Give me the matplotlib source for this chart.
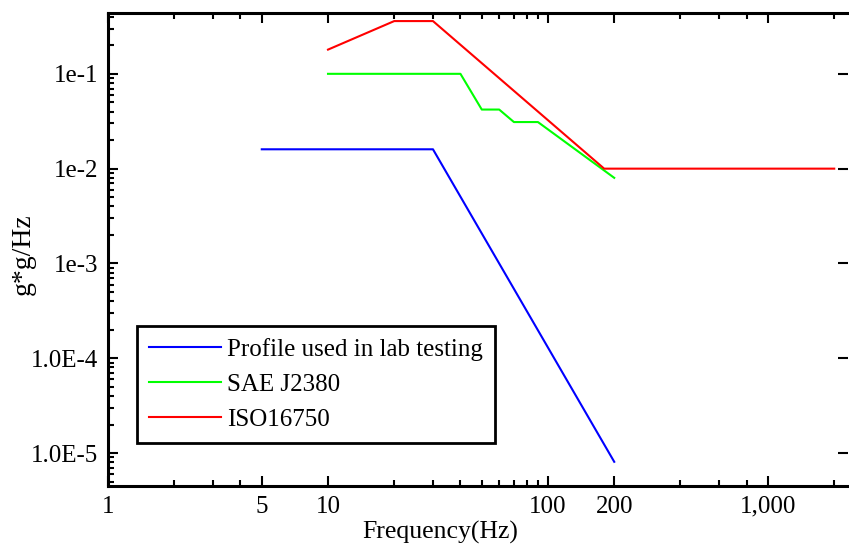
import matplotlib
matplotlib.use("Agg")
import matplotlib.pyplot as plt
from matplotlib.ticker import FixedLocator, FixedFormatter, NullFormatter, LogLocator

# ---- data ----
lab_freq = [5, 30, 200]
lab_psd = [0.016, 0.016, 8.1e-6]

sae_freq = [10, 40, 50, 60, 70, 90, 200]
sae_psd = [0.1, 0.1, 0.042, 0.042, 0.031, 0.031, 0.008]

iso_freq = [10, 20, 30, 180, 2000]
iso_psd = [0.18, 0.36, 0.36, 0.01, 0.01]

series_labels = ["Profile used in lab testing", "SAE J2380", "ISO16750"]
series_colors = ["#0000ff", "#00ff00", "#ff0000"]

x_major = [1, 5, 10, 100, 200, 1000]
x_major_labels = ["1", "5", "10", "100", "200", "1,000"]
x_minor = [2, 3, 4, 20, 30, 40, 50, 60, 70, 80, 90, 400, 600, 800, 2000]

y_major = [1e-1, 1e-2, 1e-3, 1e-4, 1e-5]
y_major_labels = ["1e-1", "1e-2", "1e-3", "1.0E-4", "1.0E-5"]

x_label = "Frequency(Hz)"
y_label = "g*g/Hz"

# ---- plot ----
plt.rcParams['font.family'] = ['Liberation Serif', 'DejaVu Serif']
fig = plt.figure(figsize=(8.49, 5.44), dpi=100)
ax = fig.add_axes([108/849, 1 - 486/544, (848 - 108)/849, (486 - 13)/544])

for fx, fy, lab, col in zip([lab_freq, sae_freq, iso_freq],
                            [lab_psd, sae_psd, iso_psd],
                            series_labels, series_colors):
    ax.plot(fx, fy, color=col, lw=1.5, label=lab)

ax.set_xscale('log')
ax.set_yscale('log')
ax.set_xlim(1, 2310)
ax.set_ylim(4.5e-6, 0.438)

ax.xaxis.set_major_locator(FixedLocator(x_major))
ax.xaxis.set_major_formatter(FixedFormatter(x_major_labels))
ax.xaxis.set_minor_locator(FixedLocator(x_minor))
ax.xaxis.set_minor_formatter(NullFormatter())

ax.yaxis.set_major_locator(FixedLocator(y_major))
ax.yaxis.set_major_formatter(FixedFormatter(y_major_labels))
ax.yaxis.set_minor_locator(LogLocator(base=10, subs=[2, 3, 4, 5, 6, 7, 8, 9], numticks=20))
ax.yaxis.set_minor_formatter(NullFormatter())

ax.tick_params(axis='both', which='major', direction='in', length=7, width=1.5,
               labelsize=18, top=True, right=True, pad=7)
ax.tick_params(axis='both', which='minor', direction='in', length=4, width=1.5,
               top=True, right=False)
ax.tick_params(axis='y', which='minor', right=False)

for side in ['left', 'bottom', 'top']:
    ax.spines[side].set_linewidth(2.2)
ax.spines['right'].set_visible(False)

ax.set_xlabel(x_label, fontsize=18.5)
ax.xaxis.set_label_coords((440 - 108) / 740, (486 - 532) / 473)
ax.set_ylabel(y_label, fontsize=20)
ax.yaxis.set_label_coords((23 - 108) / 740, (486 - 254) / 473)
ax.xaxis.label.set_va('center')
ax.yaxis.label.set_va('center')

leg = ax.legend(loc='lower left', bbox_to_anchor=(0.039, 0.091), borderaxespad=0,
                fontsize=18, frameon=True, fancybox=False, shadow=False,
                handlelength=2.9, handletextpad=0.25, labelspacing=0.5,
                borderpad=0.47)
leg.get_frame().set_edgecolor('black')
leg.get_frame().set_linewidth(2.0)
leg.get_frame().set_alpha(1)

fig.savefig("out.png", dpi=100)
